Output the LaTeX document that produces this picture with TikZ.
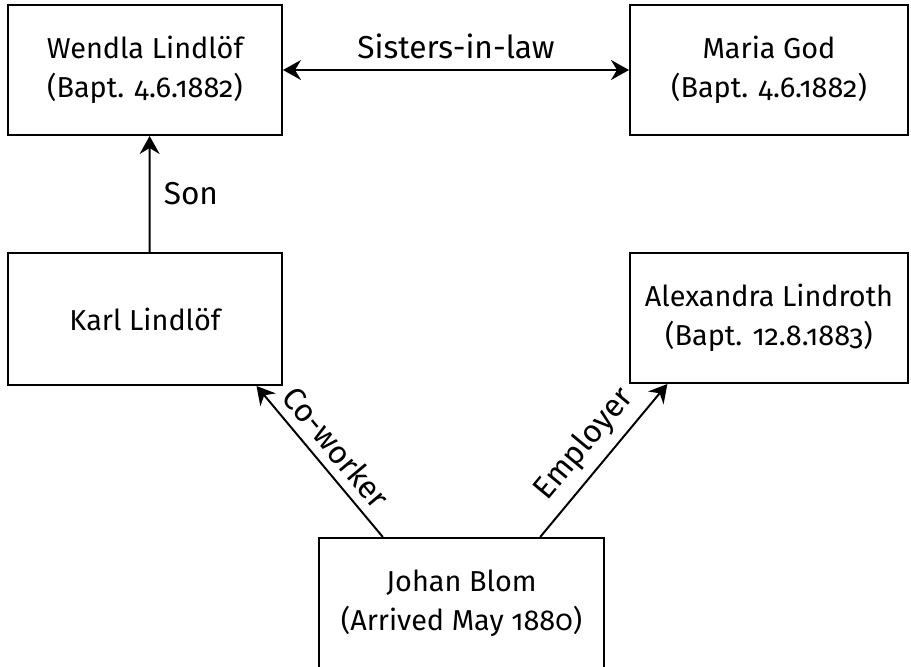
\documentclass[tikz,border=0pt]{standalone}
\usepackage{fontspec}
\setmainfont{Fira Sans}[Numbers=OldStyle]
\usetikzlibrary{arrows.meta}
\tikzset{person/.style={draw, align=center, inner sep=0pt, minimum width=6.85cm, minimum height=3.25cm, font=\fontsize{20.5}{27.5}\selectfont},
  rel/.style={font=\fontsize{22.5}{27}\selectfont}}

\begin{document}
\begin{tikzpicture}[x=0.025cm, y=-0.025cm, line width=1.4pt, >={Stealth[length=0.45cm, width=0.5cm, inset=0.15cm]}]
  \useasboundingbox (0,0) rectangle (911,666);

  \node[person] (wendla) at (145,70) {Wendla Lindlöf\\(Bapt. 4.6.1882)};
  \node[person, minimum width=6.95cm] (maria) at (769,70) {Maria God\\(Bapt. 4.6.1882)};
  \node[person, minimum height=3.3cm] (karl) at (145,319) {Karl Lindlöf};
  \node[person, minimum width=6.95cm] (alex) at (769,318) {Alexandra Lindroth\\(Bapt. 12.8.1883)};
  \node[person, minimum width=7.125cm] (johan) at (461.5,603) {Johan Blom\\(Arrived May 1880)};

  \draw[<->] (wendla) -- node[rel, above=4pt] {Sisters-in-law} (maria);
  \draw[->] (karl.86) -- node[rel, right=6pt] {Son} (wendla.274);
  \draw[->] (johan.140.4) -- node[rel, above=3pt, sloped] {Co-worker} (karl.-31);
  \draw[->] (johan.40) -- node[rel, above=3pt, sloped] {Employer} (alex.213.3);
\end{tikzpicture}
\end{document}
